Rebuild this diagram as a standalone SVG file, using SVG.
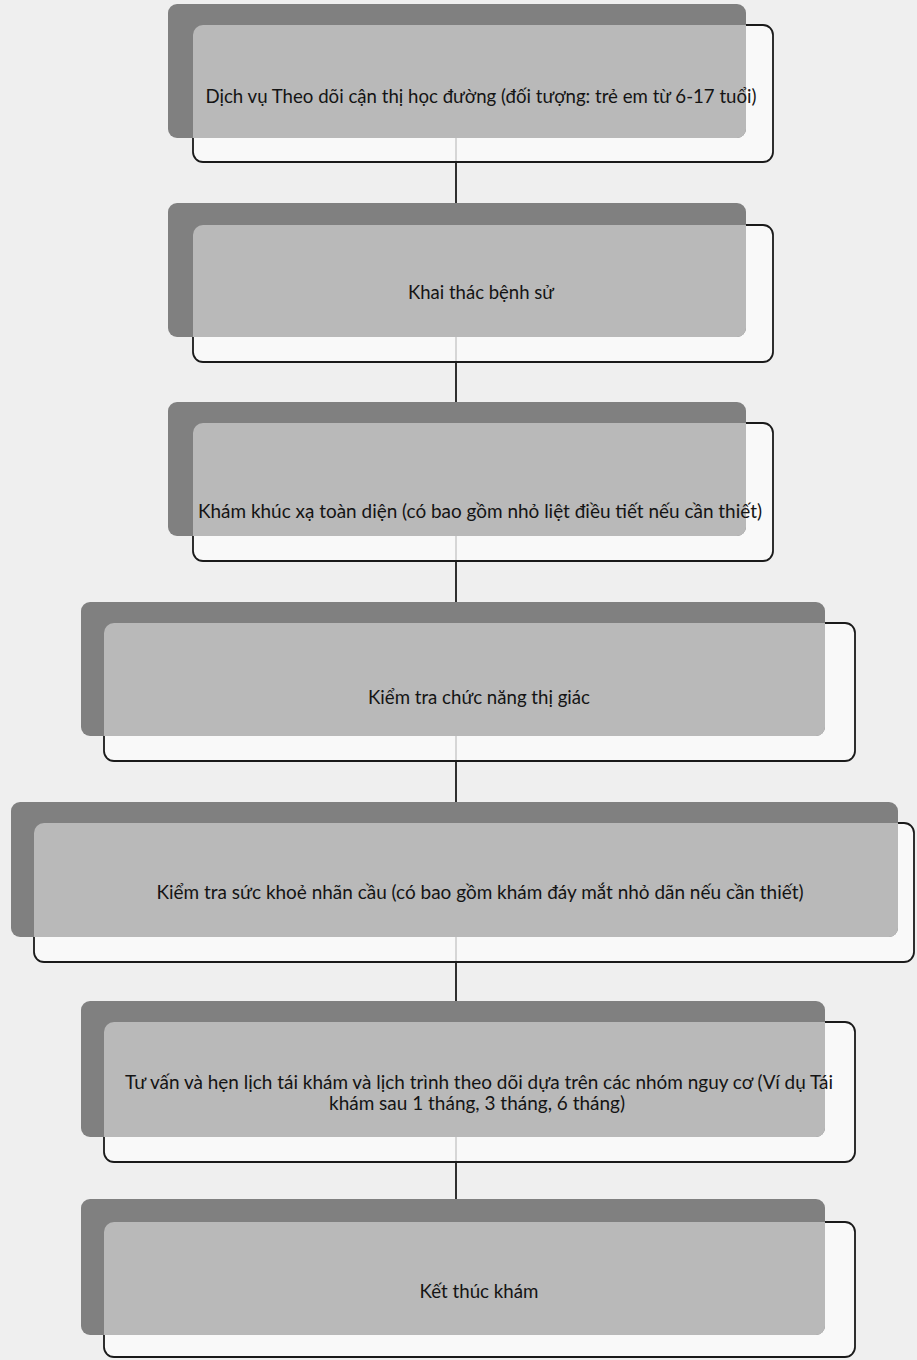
<svg xmlns="http://www.w3.org/2000/svg" width="917" height="1360" viewBox="0 0 917 1360">
<style>
.back{fill:#808080;}
.front{fill:#fbfbfb;fill-opacity:0.82;stroke:#1a1a1a;stroke-width:1.8;}
.ov{fill:#b9b9b9;}
.lbl{font-family:Lato,"Noto Sans","DejaVu Sans",sans-serif;font-size:18.5px;fill:#141414;text-anchor:middle;}
.conn{stroke:#1a1a1a;stroke-width:1.8;fill:none;}
</style>
<defs>
<clipPath id="c1"><rect x="168" y="4" width="578" height="134" rx="9"/></clipPath>
<clipPath id="c2"><rect x="168" y="203" width="578" height="134" rx="9"/></clipPath>
<clipPath id="c3"><rect x="168" y="402" width="578" height="134" rx="9"/></clipPath>
<clipPath id="c4"><rect x="81" y="602" width="744" height="134" rx="9"/></clipPath>
<clipPath id="c5"><rect x="11" y="802" width="887" height="135" rx="9"/></clipPath>
<clipPath id="c6"><rect x="81" y="1001" width="744" height="136" rx="9"/></clipPath>
<clipPath id="c7"><rect x="81" y="1199" width="744" height="136" rx="9"/></clipPath>
</defs>
<rect x="0" y="0" width="917" height="1360" fill="#efefef"/>
<g id="connectors">
<line class="conn" x1="456" y1="138" x2="456" y2="203"/>
<line class="conn" x1="456" y1="337" x2="456" y2="402"/>
<line class="conn" x1="456" y1="536" x2="456" y2="602"/>
<line class="conn" x1="456" y1="736" x2="456" y2="802"/>
<line class="conn" x1="456" y1="937" x2="456" y2="1001"/>
<line class="conn" x1="456" y1="1137" x2="456" y2="1199"/>
</g>
<g id="node1">
<rect class="front" x="193" y="25" width="580" height="137" rx="10"/>
<rect class="back" x="168" y="4" width="578" height="134" rx="9"/>
<rect class="ov" x="193" y="25" width="580" height="137" rx="10" clip-path="url(#c1)"/>
<text class="lbl" x="481" y="103" textLength="551" lengthAdjust="spacingAndGlyphs">Dịch vụ Theo dõi cận thị học đường (đối tượng: trẻ em từ 6-17 tuổi)</text>
</g>
<g id="node2">
<rect class="front" x="193" y="225" width="580" height="137" rx="10"/>
<rect class="back" x="168" y="203" width="578" height="134" rx="9"/>
<rect class="ov" x="193" y="225" width="580" height="137" rx="10" clip-path="url(#c2)"/>
<text class="lbl" x="481" y="299" textLength="146" lengthAdjust="spacingAndGlyphs">Khai thác bệnh sử</text>
</g>
<g id="node3">
<rect class="front" x="193" y="423" width="580" height="138" rx="10"/>
<rect class="back" x="168" y="402" width="578" height="134" rx="9"/>
<rect class="ov" x="193" y="423" width="580" height="138" rx="10" clip-path="url(#c3)"/>
<text class="lbl" x="480" y="518" textLength="564" lengthAdjust="spacingAndGlyphs">Khám khúc xạ toàn diện (có bao gồm nhỏ liệt điều tiết nếu cần thiết)</text>
</g>
<g id="node4">
<rect class="front" x="104" y="623" width="751" height="138" rx="10"/>
<rect class="back" x="81" y="602" width="744" height="134" rx="9"/>
<rect class="ov" x="104" y="623" width="751" height="138" rx="10" clip-path="url(#c4)"/>
<text class="lbl" x="479" y="704" textLength="222" lengthAdjust="spacingAndGlyphs">Kiểm tra chức năng thị giác</text>
</g>
<g id="node5">
<rect class="front" x="34" y="823" width="880" height="139" rx="10"/>
<rect class="back" x="11" y="802" width="887" height="135" rx="9"/>
<rect class="ov" x="34" y="823" width="880" height="139" rx="10" clip-path="url(#c5)"/>
<text class="lbl" x="480" y="899" textLength="647" lengthAdjust="spacingAndGlyphs">Kiểm tra sức khoẻ nhãn cầu (có bao gồm khám đáy mắt nhỏ dãn nếu cần thiết)</text>
</g>
<g id="node6">
<rect class="front" x="104" y="1022" width="751" height="140" rx="10"/>
<rect class="back" x="81" y="1001" width="744" height="136" rx="9"/>
<rect class="ov" x="104" y="1022" width="751" height="140" rx="10" clip-path="url(#c6)"/>
<text class="lbl" x="479" y="1089" textLength="708" lengthAdjust="spacingAndGlyphs">Tư vấn và hẹn lịch tái khám và lịch trình theo dõi dựa trên các nhóm nguy cơ (Ví dụ Tái</text>
<text class="lbl" x="477" y="1110" textLength="296" lengthAdjust="spacingAndGlyphs">khám sau 1 tháng, 3 tháng, 6 tháng)</text>
</g>
<g id="node7">
<rect class="front" x="104" y="1222" width="751" height="135" rx="10"/>
<rect class="back" x="81" y="1199" width="744" height="136" rx="9"/>
<rect class="ov" x="104" y="1222" width="751" height="135" rx="10" clip-path="url(#c7)"/>
<text class="lbl" x="479" y="1298" textLength="119" lengthAdjust="spacingAndGlyphs">Kết thúc khám</text>
</g>
</svg>
